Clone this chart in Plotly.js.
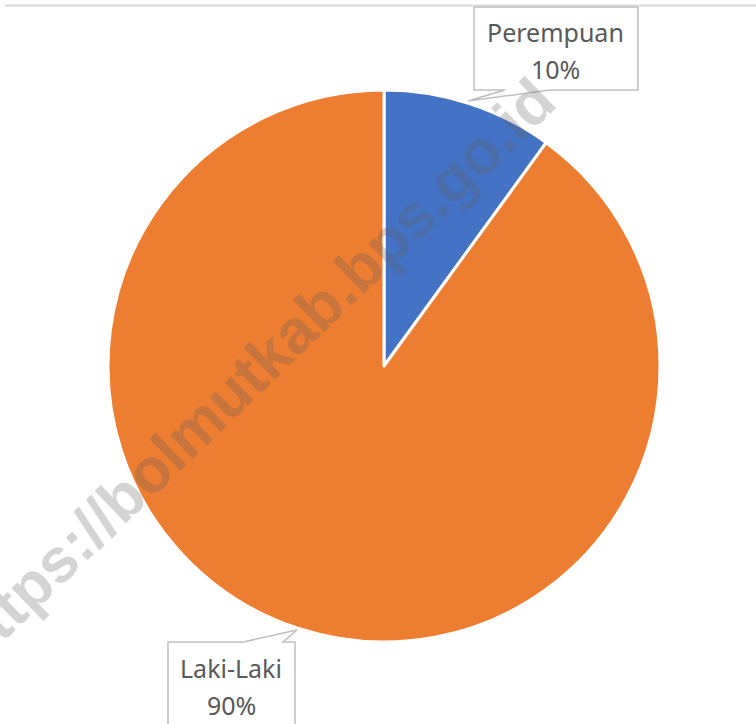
<!DOCTYPE html>
<html>
<head>
<meta charset="utf-8">
<script src="https://cdn.plot.ly/plotly-3.0.1.min.js"></script>
<style>html,body{margin:0;padding:0;background:#fff;}#chart{width:756px;height:724px;}</style>
</head>
<body>
<div id="chart"></div>
<script>
// Data
const labels = ["Perempuan", "Laki-Laki"];
const values = [10, 90];
const colors = ["#4472C4", "#ED7D31"];
const watermark = "https://bolmutkab.bps.go.id";

const W = 756, H = 724;
const px = x => x / W;
const py = y => 1 - y / H;
const total = values.reduce((a, b) => a + b, 0);
const pct = values.map(v => Math.round(v / total * 100) + "%");

function pathPx(pts) {
  return "M " + pts.map(p => px(p[0]).toFixed(5) + "," + py(p[1]).toFixed(5)).join(" L ") + " Z";
}

const trace = {
  type: "pie",
  labels: labels,
  values: values,
  sort: false,
  direction: "clockwise",
  rotation: 0,
  textinfo: "none",
  hoverinfo: "label+percent",
  marker: { colors: colors, line: { color: "#ffffff", width: 3 } },
  domain: { x: [px(384 - 276), px(384 + 276)], y: [py(366 + 276), py(366 - 276)] },
  showlegend: false
};

const calloutStyle = { type: "path", xref: "paper", yref: "paper", fillcolor: "#ffffff", line: { color: "#bfbfbf", width: 1.5 }, layer: "above" };

const shapes = [
  { type: "line", xref: "paper", yref: "paper", x0: px(5), x1: 1, y0: py(5.5), y1: py(5.5), line: { color: "#d9d9d9", width: 2 } },
  Object.assign({}, calloutStyle, { path: pathPx([[474, 7], [638, 7], [638, 90], [550, 90], [468, 101], [505, 90], [474, 90]]) }),
  Object.assign({}, calloutStyle, { path: pathPx([[168, 642], [243, 642], [297, 630], [283, 642], [295, 642], [295, 740], [168, 740]]) })
];

const labelFont = { family: "Noto Sans, Open Sans, sans-serif", size: 25, color: "#595959" };
const boxCenters = [[555, 32, 69], [231, 668, 705]];
const annotations = [];
labels.forEach((l, i) => {
  const c = boxCenters[i];
  annotations.push({ xref: "paper", yref: "paper", x: px(c[0]), y: py(c[1]), text: l, showarrow: false, font: labelFont, xanchor: "center", yanchor: "middle" });
  annotations.push({ xref: "paper", yref: "paper", x: px(c[0]), y: py(c[2]), text: pct[i], showarrow: false, font: labelFont, xanchor: "center", yanchor: "middle" });
});
annotations.push({
  xref: "paper", yref: "paper", x: px(251), y: py(372), text: "<b>" + watermark + "</b>",
  showarrow: false, textangle: -44, xanchor: "center", yanchor: "middle",
  font: { family: "Liberation Sans, Arial, sans-serif", size: 62, color: "rgba(95,95,95,0.27)" }
});

const layout = {
  width: W, height: H,
  margin: { l: 0, r: 0, t: 0, b: 0 },
  paper_bgcolor: "#ffffff",
  plot_bgcolor: "#ffffff",
  shapes: shapes,
  annotations: annotations,
  showlegend: false
};

Plotly.newPlot("chart", [trace], layout, { displayModeBar: false, staticPlot: true });
</script>
</body>
</html>
